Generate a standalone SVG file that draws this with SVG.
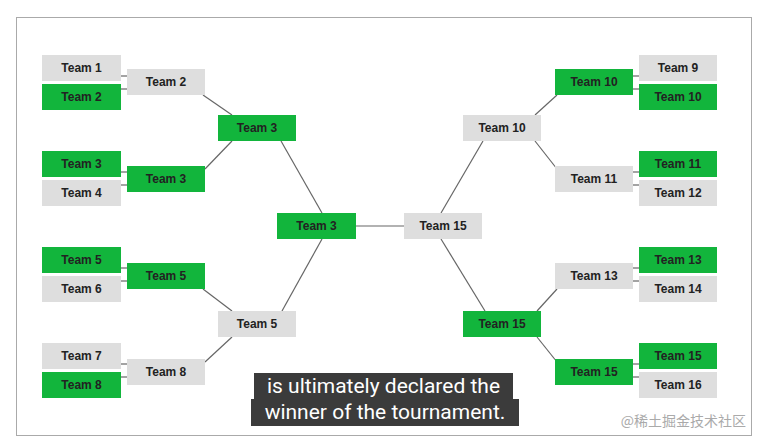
<svg xmlns="http://www.w3.org/2000/svg" width="768" height="447" viewBox="0 0 768 447">
<style>
.g{fill:#12b53c}.w{fill:#dedede}
text.t{font-family:"Liberation Sans",Arial,sans-serif;font-weight:bold;font-size:12px;fill:#222;text-anchor:middle;dominant-baseline:central}
.c line{stroke:#666;stroke-width:1.2}
.cap{font-family:Roboto,"Liberation Sans",sans-serif;font-size:21px;fill:#fff}
</style>
<rect width="768" height="447" fill="#fff"/>
<rect x="16.5" y="17.5" width="735" height="418" fill="none" stroke="#aaa"/>
<g class="c">
<line x1="121" y1="76" x2="127" y2="76"/><line x1="121" y1="89" x2="127" y2="89"/>
<line x1="121" y1="172" x2="127" y2="172"/><line x1="121" y1="185" x2="127" y2="185"/>
<line x1="121" y1="268" x2="127" y2="268"/><line x1="121" y1="281" x2="127" y2="281"/>
<line x1="121" y1="364" x2="127" y2="364"/><line x1="121" y1="377" x2="127" y2="377"/>
<line x1="633" y1="76" x2="639" y2="76"/><line x1="633" y1="89" x2="639" y2="89"/>
<line x1="633" y1="172" x2="639" y2="172"/><line x1="633" y1="185" x2="639" y2="185"/>
<line x1="633" y1="268" x2="639" y2="268"/><line x1="633" y1="281" x2="639" y2="281"/>
<line x1="633" y1="364" x2="639" y2="364"/><line x1="633" y1="377" x2="639" y2="377"/>
<line x1="203" y1="95" x2="232" y2="115"/><line x1="205" y1="169" x2="232" y2="141"/>
<line x1="203" y1="289" x2="232" y2="311"/><line x1="205" y1="362" x2="232" y2="337"/>
<line x1="281" y1="141" x2="322" y2="213"/><line x1="282" y1="311" x2="322" y2="239"/>
<line x1="356" y1="226" x2="404" y2="226"/>
<line x1="441" y1="213" x2="483" y2="141"/><line x1="441" y1="239" x2="485" y2="311"/>
<line x1="535" y1="115" x2="557" y2="95"/><line x1="535" y1="141" x2="557" y2="169"/>
<line x1="537" y1="311" x2="557" y2="289"/><line x1="537" y1="337" x2="557" y2="362"/>
</g>
<g id="l1"><rect class="w" x="42" y="55" width="79" height="26"/><text class="t" x="81.5" y="68">Team 1</text></g>
<g id="l2"><rect class="g" x="42" y="84" width="79" height="26"/><text class="t" x="81.5" y="97">Team 2</text></g>
<g id="l3"><rect class="g" x="42" y="151" width="79" height="26"/><text class="t" x="81.5" y="164">Team 3</text></g>
<g id="l4"><rect class="w" x="42" y="180" width="79" height="26"/><text class="t" x="81.5" y="193">Team 4</text></g>
<g id="l5"><rect class="g" x="42" y="247" width="79" height="26"/><text class="t" x="81.5" y="260">Team 5</text></g>
<g id="l6"><rect class="w" x="42" y="276" width="79" height="26"/><text class="t" x="81.5" y="289">Team 6</text></g>
<g id="l7"><rect class="w" x="42" y="343" width="79" height="26"/><text class="t" x="81.5" y="356">Team 7</text></g>
<g id="l8"><rect class="g" x="42" y="372" width="79" height="26"/><text class="t" x="81.5" y="385">Team 8</text></g>
<g id="l2a"><rect class="w" x="127" y="69" width="78" height="26"/><text class="t" x="166" y="82">Team 2</text></g>
<g id="l2b"><rect class="g" x="127" y="166" width="78" height="26"/><text class="t" x="166" y="179">Team 3</text></g>
<g id="l2c"><rect class="g" x="127" y="263" width="78" height="26"/><text class="t" x="166" y="276">Team 5</text></g>
<g id="l2d"><rect class="w" x="127" y="359" width="78" height="26"/><text class="t" x="166" y="372">Team 8</text></g>
<g id="l3a"><rect class="g" x="218" y="115" width="78" height="26"/><text class="t" x="257" y="128">Team 3</text></g>
<g id="l3b"><rect class="w" x="218" y="311" width="78" height="26"/><text class="t" x="257" y="324">Team 5</text></g>
<g id="cl"><rect class="g" x="277" y="213" width="79" height="26"/><text class="t" x="316.5" y="226">Team 3</text></g>
<g id="cr"><rect class="w" x="404" y="213" width="78" height="26"/><text class="t" x="443" y="226">Team 15</text></g>
<g id="r3a"><rect class="w" x="463" y="115" width="78" height="26"/><text class="t" x="502" y="128">Team 10</text></g>
<g id="r3b"><rect class="g" x="463" y="311" width="78" height="26"/><text class="t" x="502" y="324">Team 15</text></g>
<g id="r2a"><rect class="g" x="555" y="69" width="78" height="26"/><text class="t" x="594" y="82">Team 10</text></g>
<g id="r2b"><rect class="w" x="555" y="166" width="78" height="26"/><text class="t" x="594" y="179">Team 11</text></g>
<g id="r2c"><rect class="w" x="555" y="263" width="78" height="26"/><text class="t" x="594" y="276">Team 13</text></g>
<g id="r2d"><rect class="g" x="555" y="359" width="78" height="26"/><text class="t" x="594" y="372">Team 15</text></g>
<g id="r9"><rect class="w" x="639" y="55" width="78" height="26"/><text class="t" x="678" y="68">Team 9</text></g>
<g id="r10"><rect class="g" x="639" y="84" width="78" height="26"/><text class="t" x="678" y="97">Team 10</text></g>
<g id="r11"><rect class="g" x="639" y="151" width="78" height="26"/><text class="t" x="678" y="164">Team 11</text></g>
<g id="r12"><rect class="w" x="639" y="180" width="78" height="26"/><text class="t" x="678" y="193">Team 12</text></g>
<g id="r13"><rect class="g" x="639" y="247" width="78" height="26"/><text class="t" x="678" y="260">Team 13</text></g>
<g id="r14"><rect class="w" x="639" y="276" width="78" height="26"/><text class="t" x="678" y="289">Team 14</text></g>
<g id="r15"><rect class="g" x="639" y="343" width="78" height="26"/><text class="t" x="678" y="356">Team 15</text></g>
<g id="r16"><rect class="w" x="639" y="372" width="78" height="26"/><text class="t" x="678" y="385">Team 16</text></g>
<g id="caption">
<rect x="254" y="373" width="259" height="26" fill="#3b3b3b"/>
<rect x="251" y="399" width="268" height="27" fill="#3b3b3b"/>
<text class="cap" x="383.5" y="393" text-anchor="middle">is ultimately declared the</text>
<text class="cap" x="385" y="419" text-anchor="middle">winner of the tournament.</text>
</g>
<text x="746" y="426" text-anchor="end" font-family="'Noto Sans CJK SC',sans-serif" font-size="14" fill="#aaa">@稀土掘金技术社区</text>
</svg>
